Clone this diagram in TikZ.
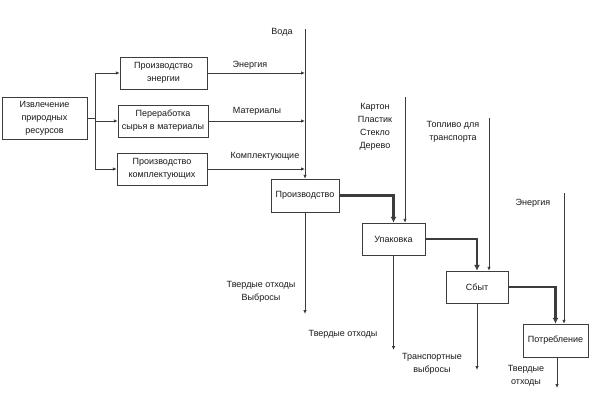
\documentclass[tikz,border=0pt]{standalone}
\usepackage{fontspec}
\setmainfont{Liberation Sans}
\usetikzlibrary{arrows.meta,positioning,calc}
\definecolor{inkgray}{RGB}{60,60,60}

\begin{document}
\begin{tikzpicture}[x=1pt,y=-1pt,>={Latex[length=4pt,width=3.5pt]},
 every node/.style={font=\fontsize{9}{13}\selectfont,text=black!90},
 blk/.style={draw=inkgray,fill=white,inner sep=2pt,minimum height=32pt,align=center},
 flow/.style={draw=inkgray,line width=0.8pt},
 main/.style={draw=inkgray,line width=2.6pt,->,>={Latex[length=6pt,width=6pt]}},
 lbl/.style={align=center,inner sep=0pt}]
\useasboundingbox (0,0) rectangle (589,397);
% blocks
\node[blk,minimum width=85pt,minimum height=42pt](src)at(44.5,118){Извлечение\\природных\\ресурсов};
\node[blk,minimum width=87pt](en)at(163.5,73){Производство\\энергии};
\node[blk,minimum width=90pt](mat)at(163,121){Переработка\\сырья в материалы};
\node[blk,minimum width=90pt](kom)at(162,169){Производство\\комплектующих};
\node[blk,minimum width=68pt,minimum height=33pt](prod)at(305,195.5){Производство};
\node[blk,minimum width=63pt](pack)at(393.5,239){Упаковка};
\node[blk,minimum width=62pt](sale)at(477,287){Сбыт};
\node[blk,minimum width=65pt,minimum height=33pt](cons)at(555.5,340.5){Потребление};
% free ends
\coordinate(wtop)at(305,29);\coordinate(ptop)at(405,97);
\coordinate(ftop)at(489,118);\coordinate(etop)at(564,193);
\coordinate(w1)at(305,314);\coordinate(w2)at(393.5,350);
\coordinate(w3)at(477,370);\coordinate(w4)at(557,388);
% branching
\draw[flow](src.east)--++(8,0)coordinate(br);
\draw[flow](br|-en.west)--(br|-kom.west);
\foreach \b in {en,mat,kom}{\draw[flow,->](br|-\b.west)--(\b.west);}
% inputs to production
\draw[flow,->](wtop)--(prod.north);
\foreach \b in {en,mat,kom}{\draw[flow,->](\b.east)--(\b.east-|wtop);}
\node[lbl](voda)at(282,32){Вода};
\node[lbl](len)at(250,65){Энергия};
\node[lbl](lmat)at(257,111){Материалы};
\node[lbl](lkom)at(265,156){Комплектующие};
% main chain
\draw[main](prod.east)-|(pack.north);
\draw[main](pack.east)-|(sale.north);
\draw[main](sale.east)-|(cons.north);
% side inputs
\draw[flow,->](ptop)--(ptop|-pack.north);
\draw[flow,->](ftop)--(ftop|-sale.north);
\draw[flow,->](etop)--(etop|-cons.north);
\node[lbl](lpack)at(375,127){Картон\\Пластик\\Стекло\\Дерево};
\node[lbl](lfuel)at(453,132){Топливо для\\транспорта};
\node[lbl](lel)at(533,203){Энергия};
% outputs
\draw[flow,->](prod.south)--(w1);
\draw[flow,->](pack.south)--(w2);
\draw[flow,->](sale.south)--(w3);
\draw[flow,->](w4|-cons.south)--(w4);
\node[lbl](o1)at(261,292){Твердые отходы\\Выбросы};
\node[lbl](o2)at(343,334){Твердые отходы};
\node[lbl](o3)at(432,364){Транспортные\\выбросы};
\node[lbl](o4)at(526,376){Твердые\\отходы};
\end{tikzpicture}
\end{document}
